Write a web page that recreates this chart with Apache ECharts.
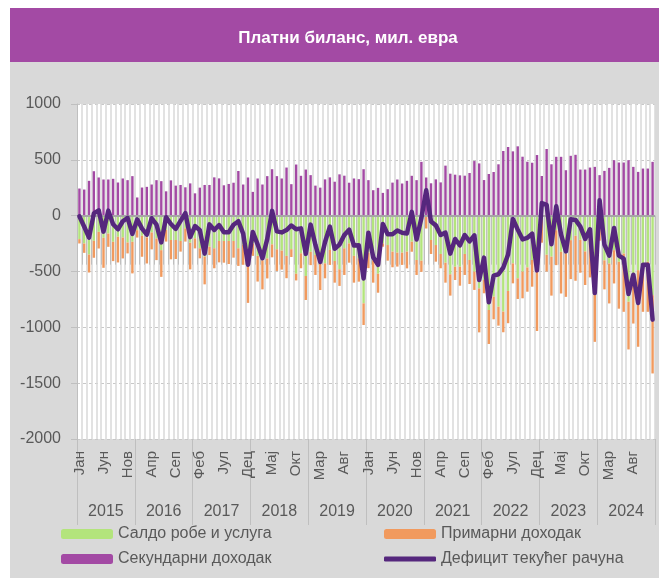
<!DOCTYPE html>
<html lang="sr">
<head>
    <meta charset="UTF-8">
    <title>Платни биланс</title>
    <script src="https://cdn.jsdelivr.net/npm/echarts@6/dist/echarts.min.js"></script>
    <style>
        html, body { margin: 0; padding: 0; background: #fff; }
        #chart {
            position: absolute;
            left: 10px;
            top: 8px;
            width: 649px;
            height: 570px;
            background: #d9d9d9;
        }
    </style>
</head>
<body>
    <div id="chart"></div>
    <script>
        // Data, million EUR, monthly Jan 2015 - Dec 2024
        var years = ['2015', '2016', '2017', '2018', '2019', '2020', '2021', '2022', '2023', '2024'];
        var monthNames = ['Јан', 'Феб', 'Мар', 'Апр', 'Мај', 'Јун', 'Јул', 'Авг', 'Сеп', 'Окт', 'Нов', 'Дец'];

        var goodsServices = [
            -210, -249, -348, -225, -145, -198, -160, -234, -189, -195, -240, -234,
            -130, -180, -195, -150, -204, -309, -128, -218, -218, -227, -113, -242,
            -203, -292, -367, -278, -292, -227, -227, -227, -227, -292, -260, -444,
            -250, -360, -400, -383, -257, -301, -313, -360, -300, -520, -337, -540,
            -324, -352, -427, -427, -307, -406, -480, -292, -248, -360, -382, -785,
            -330, -400, -520, -248, -263, -322, -331, -331, -322, -233, -397, -403,
            -5, -218, -263, -343, -421, -525, -457, -457, -343, -397, -501, -651,
            -576, -845, -725, -815, -859, -674, -427, -561, -501, -463, -397, -433,
            -39, -350, -367, -130, -324, -339, -219, -180, -216, -320, -213, -697,
            -60, -400, -428, -309, -413, -339, -771, -548, -488, -443, -413, -712
        ];
        var primaryIncome = [
            -39, -84, -161, -152, -149, -269, -119, -173, -230, -188, -98, -283,
            -66, -188, -233, -152, -194, -239, -104, -173, -170, -95, -119, -239,
            -90, -90, -248, -75, -179, -191, -194, -206, -149, -158, -180, -337,
            -110, -230, -260, -179, -116, -194, -170, -200, -70, -60, -134, -215,
            -119, -179, -239, -134, -134, -194, -149, -239, -173, -240, -209, -194,
            -140, -200, -170, -30, -140, -140, -125, -110, -150, -90, -134, -100,
            -110, -125, -149, -128, -179, -191, -119, -170, -188, -215, -164, -394,
            -119, -304, -203, -170, -185, -289, -179, -185, -239, -218, -239, -600,
            -203, -150, -349, -313, -373, -388, -349, -403, -295, -301, -340, -433,
            -164, -260, -358, -298, -420, -522, -427, -418, -686, -418, -448, -701
        ];
        var secondaryIncome = [
            243, 234, 312, 398, 342, 324, 324, 330, 297, 333, 318, 354,
            163, 252, 258, 279, 318, 309, 218, 316, 269, 275, 254, 289,
            200, 251, 275, 275, 343, 334, 272, 284, 295, 400, 279, 342,
            213, 333, 279, 354, 416, 354, 333, 431, 282, 458, 357, 413,
            363, 269, 251, 325, 343, 304, 370, 358, 295, 333, 327, 416,
            318, 228, 249, 204, 237, 296, 324, 288, 312, 357, 318, 482,
            342, 290, 325, 298, 448, 376, 367, 361, 358, 382, 489, 468,
            319, 373, 391, 460, 579, 615, 576, 621, 528, 483, 474, 543,
            355, 597, 460, 527, 527, 407, 536, 545, 413, 413, 431, 437,
            363, 401, 428, 497, 476, 476, 497, 437, 392, 422, 422, 482
        ];
        var currentAccount = [
            -6, -99, -197, 21, 48, -143, 45, -77, -122, -50, -20, -163,
            -33, -116, -170, -23, -80, -239, -14, -75, -119, -47, 22, -192,
            -93, -131, -340, -78, -128, -84, -149, -149, -81, -50, -161, -439,
            -147, -257, -381, -208, 43, -141, -150, -129, -88, -122, -114, -342,
            -80, -262, -415, -236, -98, -296, -259, -173, -126, -267, -264, -563,
            -152, -372, -441, -74, -166, -166, -132, -153, -160, 34, -213, -21,
            227, -53, -87, -173, -152, -340, -209, -266, -173, -230, -176, -577,
            -376, -776, -537, -525, -465, -348, -30, -125, -212, -198, -162, -490,
            113, 97, -256, 84, -170, -320, -32, -38, -98, -208, -122, -693,
            139, -259, -358, -110, -357, -385, -701, -529, -782, -439, -439, -931
        ];

        // category per month, unique name "Мес Год"
        var categories = [];
        years.forEach(function (y) {
            monthNames.forEach(function (m) { categories.push(m + ' ' + y); });
        });

        var font = 'Liberation Sans';
        var textGray = '#595959';
        var lineColor = '#55277d';

        var chart = echarts.init(document.getElementById('chart'), null, { renderer: 'canvas' });

        var legendBase = {
            padding: 0,
            itemWidth: 52,
            itemHeight: 10,
            itemGap: 5,
            textStyle: { fontFamily: font, fontSize: 16, color: textGray }
        };

        chart.setOption({
            animation: false,
            graphic: [{
                type: 'rect',
                left: 0,
                top: 0,
                z: -1,
                shape: { width: 649, height: 54 },
                style: { fill: '#a34aa4' }
            }],
            title: {
                text: 'Платни биланс, мил. евра',
                left: 338,
                top: 22,
                padding: 0,
                textAlign: 'center',
                textStyle: { fontFamily: font, fontSize: 17, fontWeight: 'bold', color: '#fff' }
            },
            legend: [
                Object.assign({ left: 51, top: 518, data: ['Салдо робе и услуга'] }, legendBase),
                Object.assign({ left: 374, top: 518, data: ['Примарни доходак'] }, legendBase),
                Object.assign({ left: 51, top: 543, data: ['Секундарни доходак'] }, legendBase),
                Object.assign({}, legendBase, {
                    left: 374,
                    top: 543,
                    itemHeight: 5,
                    data: [{ name: 'Дефицит текућег рачуна', icon: 'roundRect' }]
                })
            ],
            grid: {
                left: 67,
                right: 4,
                top: 96,
                bottom: 139,
                show: true,
                backgroundColor: '#fff',
                borderWidth: 0
            },
            xAxis: [{
                type: 'category',
                data: categories,
                position: 'bottom',
                axisLine: { show: false },
                axisTick: { show: true, interval: 0, length: 49, lineStyle: { color: '#bfbfbf', width: 1 } },
                splitLine: { show: true, interval: 0, lineStyle: { color: '#d9d9d9', width: 1.5 } },
                axisLabel: {
                    interval: 4,
                    rotate: 90,
                    margin: 12,
                    fontFamily: font,
                    fontSize: 15,
                    color: textGray,
                    formatter: function (v) { return v.split(' ')[0]; }
                }
            }, {
                type: 'category',
                data: years,
                position: 'bottom',
                axisLine: { show: false },
                axisTick: { show: true, interval: 0, length: 86, lineStyle: { color: '#bfbfbf', width: 1 } },
                axisLabel: {
                    interval: 0,
                    margin: 65,
                    fontFamily: font,
                    fontSize: 16,
                    color: textGray
                }
            }],
            yAxis: {
                type: 'value',
                min: -2000,
                max: 1000,
                interval: 500,
                axisLine: { show: true, lineStyle: { color: '#bfbfbf' } },
                axisTick: { show: true, length: 6, lineStyle: { color: '#bfbfbf' } },
                splitLine: { show: true, lineStyle: { color: '#c8c8c8', type: [3, 3] } },
                axisLabel: {
                    margin: 16,
                    fontFamily: font,
                    fontSize: 16,
                    color: textGray,
                    formatter: function (v) { return String(v); }
                }
            },
            series: [{
                name: 'Салдо робе и услуга',
                type: 'bar',
                stack: 'bop',
                barWidth: '50%',
                itemStyle: { color: '#b3e47c' },
                data: goodsServices
            }, {
                name: 'Примарни доходак',
                type: 'bar',
                stack: 'bop',
                barWidth: '50%',
                itemStyle: { color: '#f19a5e' },
                data: primaryIncome
            }, {
                name: 'Секундарни доходак',
                type: 'bar',
                stack: 'bop',
                barWidth: '50%',
                itemStyle: { color: '#a34aa4' },
                data: secondaryIncome,
                markLine: {
                    silent: true,
                    symbol: 'none',
                    label: { show: false },
                    lineStyle: { color: '#a6a6a6', width: 2, type: 'solid' },
                    data: [{ yAxis: 0 }]
                }
            }, {
                name: 'Дефицит текућег рачуна',
                type: 'line',
                showSymbol: false,
                symbol: 'none',
                z: 5,
                itemStyle: { color: lineColor },
                lineStyle: { color: lineColor, width: 4.5, cap: 'round', join: 'round' },
                data: currentAccount
            }]
        });
    </script>
</body>
</html>
